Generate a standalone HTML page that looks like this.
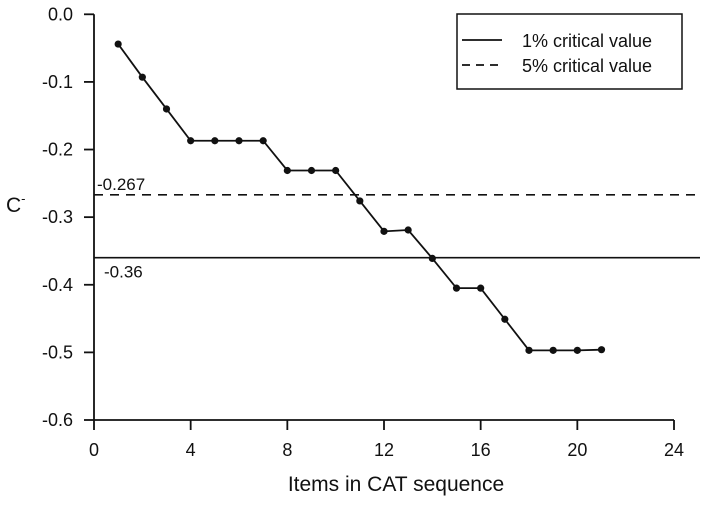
<!DOCTYPE html>
<html><head><meta charset="utf-8"><style>
body{margin:0;background:#fff}
svg text{font-family:"Liberation Sans",Arial,sans-serif;fill:#111}
</style></head><body>
<svg width="708" height="501" viewBox="0 0 708 501">
<g id="axes"></g>
<g id="marks"></g>
<g>
<rect x="457" y="14" width="225" height="75" fill="#fff" stroke="#111" stroke-width="1.5"/>
<line x1="462" y1="40" x2="502" y2="40" stroke="#111" stroke-width="1.8"/>
<text x="522" y="47" font-size="18">1% critical value</text>
<line x1="462" y1="65" x2="502" y2="65" stroke="#111" stroke-width="1.8" stroke-dasharray="8,6"/>
<text x="522" y="72" font-size="18">5% critical value</text>
</g>
</svg>
<script>
const xValues=[1,2,3,4,5,6,7,8,9,10,11,12,13,14,15,16,17,18,19,20,21];
const yValues=[-0.044,-0.093,-0.140,-0.187,-0.187,-0.187,-0.187,-0.231,-0.231,-0.231,-0.276,-0.321,-0.319,-0.361,-0.405,-0.405,-0.451,-0.497,-0.497,-0.497,-0.496];
const xTicks=[0,4,8,12,16,20,24];
const yTicks=[0,-0.1,-0.2,-0.3,-0.4,-0.5,-0.6];
const yTickLabels=["0.0","-0.1","-0.2","-0.3","-0.4","-0.5","-0.6"];
const critical1=-0.36, critical5=-0.267;
const NS="http://www.w3.org/2000/svg";
const X=v=>94+v*(674-94)/24;
const Y=v=>14.3+(-v)*(420-14.3)/0.6;
function mk(tag,attrs,parent,txt){const e=document.createElementNS(NS,tag);for(const k in attrs)e.setAttribute(k,attrs[k]);if(txt!=null)e.textContent=txt;parent.appendChild(e);return e;}
const ax=document.getElementById('axes'),mg=document.getElementById('marks');
let e=mk('line',{x1:94,y1:Y(0),x2:94,y2:420,stroke:'#111','stroke-width':1.8},ax);


e=mk('line',{x1:94,y1:420,x2:674,y2:420,stroke:'#111','stroke-width':1.8},ax);


yTicks.forEach((v,i)=>{
 let t=mk('line',{x1:84,y1:Y(v),x2:94,y2:Y(v),stroke:'#111','stroke-width':1.8},ax);
 
 
 let l=mk('text',{x:73,y:Y(v)+6,'font-size':18,'text-anchor':'end'},ax,yTickLabels[i]);
 
 
});
xTicks.forEach(v=>{
 let t=mk('line',{x1:X(v),y1:420,x2:X(v),y2:430,stroke:'#111','stroke-width':1.8},ax);
 
 
 let l=mk('text',{x:X(v),y:456,'font-size':18,'text-anchor':'middle'},ax,String(v));
 
 
});
e=mk('text',{x:396,y:491,'font-size':21,'text-anchor':'middle'},ax,'Items in CAT sequence');


e=mk('text',{x:6,y:212,'font-size':21},ax,'C');


mk('tspan',{'font-size':13,dy:-9},e,'-');
e=mk('line',{x1:94,y1:Y(critical5),x2:700,y2:Y(critical5),stroke:'#111','stroke-width':1.6,'stroke-dasharray':'9,7'},mg);


e=mk('text',{x:97,y:Y(critical5)-5,'font-size':17},mg,String(critical5));


e=mk('line',{x1:94,y1:Y(critical1),x2:700,y2:Y(critical1),stroke:'#111','stroke-width':1.6},mg);


e=mk('text',{x:104,y:Y(critical1)+20,'font-size':17},mg,String(critical1));


e=mk('polyline',{points:xValues.map((x,i)=>X(x)+','+Y(yValues[i])).join(' '),fill:'none',stroke:'#111','stroke-width':1.8},mg);


xValues.forEach((x,i)=>{
 let p=mk('circle',{cx:X(x),cy:Y(yValues[i]),r:3.6,fill:'#111'},mg);
 
 
});
</script>
</body></html>
